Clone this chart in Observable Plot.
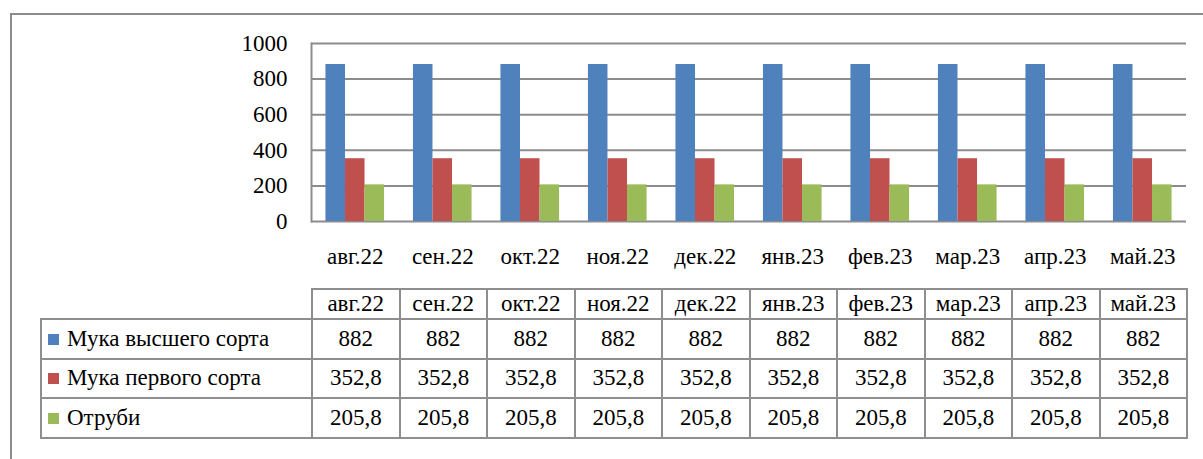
<!DOCTYPE html>
<html>
<head>
<meta charset="utf-8">
<script src="https://cdn.jsdelivr.net/npm/d3@7"></script>
<script src="https://cdn.jsdelivr.net/npm/@observablehq/plot@0.6"></script>
</head>
<body style="margin:0;padding:0;background:#fff">
<div id="wrap" style="position:relative;width:1203px;height:459px;overflow:hidden;background:#fff;font-family:'Liberation Serif'">
  <div id="frame" style="position:absolute;left:10px;top:13px;width:1400px;height:700px;border-left:2px solid #8c8c8c;border-top:2px solid #8c8c8c"></div>
  <div id="chart" style="position:absolute;left:0;top:0"></div>
  <table id="tbl" style="position:absolute;left:40px;top:288px;border-collapse:collapse;table-layout:fixed;font-size:23px;color:#000;font-family:'Liberation Serif'"></table>
</div>
<script>
const months = ["авг.22","сен.22","окт.22","ноя.22","дек.22","янв.23","фев.23","мар.23","апр.23","май.23"];
const seriesNames = ["Мука высшего сорта","Мука первого сорта","Отруби"];
const highestGrade = [882, 882, 882, 882, 882, 882, 882, 882, 882, 882];
const firstGrade = [352.8, 352.8, 352.8, 352.8, 352.8, 352.8, 352.8, 352.8, 352.8, 352.8];
const bran = [205.8, 205.8, 205.8, 205.8, 205.8, 205.8, 205.8, 205.8, 205.8, 205.8];
const colors = ["#4F81BD", "#C0504D", "#9BBB59"];
const yTicks = [0, 200, 400, 600, 800, 1000];

const seriesValues = [highestGrade, firstGrade, bran];
const FONT = `"Liberation Serif"`;

const W = 1203, H = 275;
const mL = 311, mR = 17, mT = 43, mB = 54;
const band = (W - mL - mR) / months.length;
const groupFrac = 0.67;
const bw = band * groupFrac / seriesNames.length;
const off = (band - bw * seriesNames.length) / 2;

const barMarks = seriesNames.map((name, i) => {
  const rows = months.map((m, j) => ({month: m, value: seriesValues[i][j]}));
  return Plot.barY(rows, {
    x: "month", y: "value", fill: colors[i],
    insetLeft: off + i * bw,
    insetRight: band - off - (i + 1) * bw
  });
});

const chart = Plot.plot({
  width: W, height: H,
  marginLeft: mL, marginRight: mR, marginTop: mT, marginBottom: mB,
  style: {fontFamily: FONT, fontSize: "23px", color: "#000", background: "transparent", overflow: "visible"},
  x: {domain: months, padding: 0, round: false, label: null, tickSize: 0, tickPadding: 26},
  y: {domain: [0, 1000], ticks: yTicks, tickFormat: d => String(d), label: null, tickSize: 0, tickPadding: 24},
  marks: [
    Plot.ruleY(yTicks, {stroke: "#8c8c8c", strokeWidth: 2}),
    Plot.frame({anchor: "left", stroke: "#8c8c8c", strokeWidth: 2}),
    ...barMarks
  ]
});
chart.setAttribute("font-family", FONT);
chart.style.fontFamily = FONT;
chart.querySelectorAll("g").forEach(g => { if (g.getAttribute("font-family")) g.setAttribute("font-family", FONT); });
chart.querySelectorAll("text").forEach(t => { t.style.fontFamily = FONT; });
document.getElementById("chart").appendChild(chart);

// Data table
const fmt = v => String(v).replace(".", ",");
const tbl = document.getElementById("tbl");
tbl.style.width = (271 + band * months.length) + "px";
const colgroup = document.createElement("colgroup");
const c0 = document.createElement("col"); c0.style.width = "271px"; colgroup.appendChild(c0);
months.forEach(() => { const c = document.createElement("col"); c.style.width = band + "px"; colgroup.appendChild(c); });
tbl.appendChild(colgroup);

function cell(text, h, lh) {
  const td = document.createElement("td");
  Object.assign(td.style, {border: "2px solid #8e8e8e", padding: "0", textAlign: "center", verticalAlign: "middle",
    whiteSpace: "nowrap", overflow: "hidden", height: h, lineHeight: lh, fontFamily: FONT});
  if (text != null) td.textContent = text;
  return td;
}

const head = document.createElement("tr");
const blank = cell(null, "28px", "26px"); blank.style.border = "none"; head.appendChild(blank);
months.forEach(m => head.appendChild(cell(m, "28px", "26px")));
tbl.appendChild(head);

seriesNames.forEach((name, i) => {
  const tr = document.createElement("tr");
  const lab = cell(null, "37.5px", "30px");
  lab.style.textAlign = "left"; lab.style.paddingLeft = "6px";
  const key = document.createElement("span");
  Object.assign(key.style, {display: "inline-block", width: "11px", height: "11px", marginRight: "8px", verticalAlign: "1px", background: colors[i]});
  lab.appendChild(key); lab.appendChild(document.createTextNode(name));
  tr.appendChild(lab);
  seriesValues[i].forEach(v => tr.appendChild(cell(fmt(v), "37.5px", "30px")));
  tbl.appendChild(tr);
});
</script>
</body>
</html>
